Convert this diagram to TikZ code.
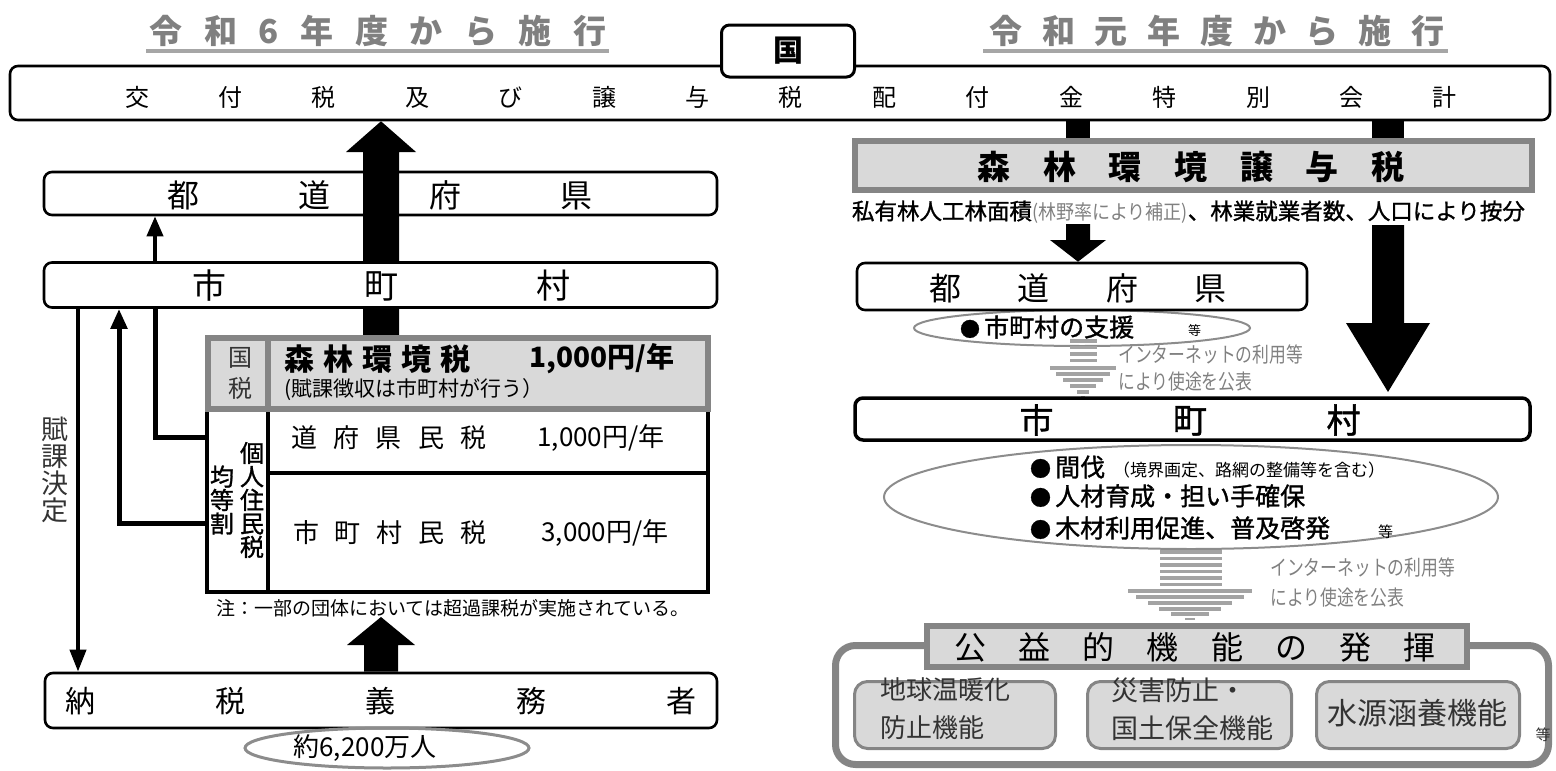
\documentclass[tikz,border=0pt]{standalone}
\usepackage{fontspec}
\setmainfont{Noto Sans CJK JP}
\newfontfamily\jpn[FakeStretch=0.8]{Noto Sans CJK JP}
\newfontfamily\jpsmall[FakeStretch=0.9]{Noto Sans CJK JP}
\newfontfamily\jpm[FakeBold=1.2]{Noto Sans CJK JP}
\usetikzlibrary{calc,arrows.meta,shapes.geometric}
\definecolor{titlegray}{HTML}{808080}
\definecolor{linegray}{HTML}{A6A6A6}
\definecolor{boxfill}{HTML}{D9D9D9}
\definecolor{boxline}{HTML}{858585}
\definecolor{stripe}{HTML}{A3A3A3}
\definecolor{ellgray}{HTML}{8C8C8C}
\definecolor{softtext}{HTML}{333333}
\newcommand\fs[2]{\fontsize{#1pt}{#2pt}\selectfont}
\begin{document}
\begin{tikzpicture}[x=1pt,y=-1pt,
  rbox/.style={draw=black,line width=2.6,rounded corners=8,fill=white,inner sep=0},
  lbl/.style={inner sep=0,outer sep=0,anchor=center},
  gbox/.style={draw=boxline,line width=6,fill=boxfill,inner sep=0},
  tcell/.style={draw=black,line width=4,inner sep=0},
  ell/.style={draw=ellgray,ellipse,line width=2,inner sep=0},
  ibox/.style={draw=boxline,line width=3,fill=boxfill,rounded corners=13,inner sep=0},
  strp/.style={draw=stripe,line width=3.5},
  note/.style={inner sep=0,text=titlegray,align=left,anchor=west},
  tri/.style={-{Triangle[width=16pt,length=20pt]}}
]
\useasboundingbox (0,0) rectangle (1556,771);

% titles
\node[lbl,text=titlegray] (titleL) at (378,31) {\fs{33}{36}\bfseries\makebox[457pt]{令\hfill 和\hfill 6\hfill 年\hfill 度\hfill か\hfill ら\hfill 施\hfill 行}};
\draw[linegray,line width=4] (146,51) -- (609,51);
\node[lbl,text=titlegray] (titleR) at (1217,31) {\fs{33}{36}\bfseries\makebox[455pt]{令\hfill 和\hfill 元\hfill 年\hfill 度\hfill か\hfill ら\hfill 施\hfill 行}};
\draw[linegray,line width=4] (983,51) -- (1448,51);

% national special account
\node[rbox,minimum width=1540,minimum height=54] (kofu) at (780,93) {};
\node[lbl] (kofuT) at (791,97) {\fs{24}{28}\makebox[1332pt]{交\hfill 付\hfill 税\hfill 及\hfill び\hfill 譲\hfill 与\hfill 税\hfill 配\hfill 付\hfill 金\hfill 特\hfill 別\hfill 会\hfill 計}};
\node[rbox,line width=3,minimum width=133,minimum height=52] (kuni) at (788,51) {\fs{30}{34}\bfseries 国};

% ---------- left side ----------
\node[rbox,minimum width=673,minimum height=43] (prefL) at (380.5,193.5) {};
\node[lbl] (prefLT) at (380,195) {\fs{32}{36}\makebox[425pt]{都\hfill 道\hfill 府\hfill 県}};
\fill (363,335) -- (363,152) -- (346,152) -- (381,0 |- kofu.south) -- (416,152) -- (399,152) -- (399,335) -- cycle;
\node[rbox,minimum width=673,minimum height=45] (munL) at (380.5,285) {};
\node[lbl] (munLT) at (381,286) {\fs{34}{38}\makebox[378pt]{市\hfill 町\hfill 村}};

\draw[line width=4,tri] (155,0 |- munL.north) -- (155,0 |- prefL.south);

% table
\node[tcell,minimum width=61,minimum height=183] (lcol) at (237.5,500.5) {};
\node[tcell,minimum width=440,minimum height=64] (row1) at (488,441) {};
\node[tcell,minimum width=440,minimum height=119] (row2) at (488,532.5) {};
\node[gbox,minimum width=500,minimum height=71] (gtax) at (458,373.5) {};
\draw[boxline,line width=6] (268,338) -- (268,409);
\node[lbl,align=center,font=\fs{24}{31},text=softtext] (kokuT) at (240,373) {国\\税};
\node[lbl] (shinT) at (377.5,359) {\fs{30}{34}\bfseries\makebox[187pt]{森\hfill 林\hfill 環\hfill 境\hfill 税}};
\node[lbl] (shinY) at (602,359) {\fs{28}{32}\bfseries 1,000円/年};
\node[lbl,anchor=west] (fuka) at (284,390) {\fs{21}{24}(賦課徴収は市町村が行う）};
\node[lbl] (kenT) at (389,438) {\fs{26}{30}\makebox[196pt]{道\hfill 府\hfill 県\hfill 民\hfill 税}};
\node[lbl] (kenY) at (601,438) {\fs{26}{30}1,000円/年};
\node[lbl] (shiT) at (390,533) {\fs{26}{30}\makebox[194pt]{市\hfill 町\hfill 村\hfill 民\hfill 税}};
\node[lbl] (shiY) at (605,533) {\fs{26}{30}3,000円/年};
\node[lbl,align=center,font=\jpm\fs{24}{23.5}] (kinT) at (222,500) {均\\等\\割};
\node[lbl,align=center,font=\jpm\fs{24}{23.5}] (kojT) at (252,500) {個\\人\\住\\民\\税};
\node[lbl] (chu) at (453,608) {\fs{19}{22}注：一部の団体においては超過課税が実施されている。};

% left connectors
\draw[line width=5] (155,0 |- munL.south) -- (155,437) -- (lcol.west |- 0,437);
\draw[line width=5,tri] (lcol.west |- 0,523) -- (119,523) -- (119,0 |- munL.south);
\node[rbox,minimum width=672,minimum height=55] (nozei) at (381,700.5) {};
\draw[line width=4,-{Triangle[width=16pt,length=22pt]}] (78,0 |- munL.south) -- (78,0 |- nozei.north);
\node[lbl,align=center,font=\fs{27}{27},text=softtext] (fukaK) at (55,470) {賦\\課\\決\\定};

\node[lbl] (nozeiT) at (381,701) {\fs{30}{34}\makebox[632pt]{納\hfill 税\hfill 義\hfill 務\hfill 者}};
\fill (364,0 |- nozei.north) -- (364,645) -- (347,645) -- (381,617) -- (415,645) -- (398,645) -- (398,0 |- nozei.north) -- cycle;
\node[ell,line width=3,minimum width=284,minimum height=40] (ninzu) at (387,748) {};
\node[lbl] (ninzuT) at (365,748) {\fs{26}{30}約6,200万人};

% ---------- right side ----------
\node[gbox,minimum width=677,minimum height=49] (jyoyo) at (1193.5,165.5) {};
\fill (1066,0 |- kofu.south) rectangle (1090,0 |- jyoyo.north);
\fill (1372,0 |- kofu.south) rectangle (1404,0 |- jyoyo.north);
\node[lbl] (jyoyoT) at (1191,167) {\fs{33}{36}\bfseries\makebox[427pt]{森\hfill 林\hfill 環\hfill 境\hfill 譲\hfill 与\hfill 税}};
\node[lbl,anchor=west] (anbun) at (852,212) {\jpm\fs{22.5}{26}私有林人工林面積{\jpsmall\fs{20}{22}\color{titlegray}(林野率により補正)}\jpm、林業就業者数、人口により按分};

\node[ell,minimum width=336,minimum height=36] (shien) at (1082,328) {};
\node[rbox,minimum width=450,minimum height=47] (prefR) at (1082,286.5) {};
\node[lbl] (prefRT) at (1078,288) {\fs{32}{36}\makebox[297pt]{都\hfill 道\hfill 府\hfill 県}};
\fill (1066,224) -- (1066,240) -- (1050,240) -- (1078,0 |- prefR.north) -- (1106,240) -- (1090,240) -- (1090,224) -- cycle;
\node[lbl,anchor=west] (shienT) at (960,327) {\jpm\fs{25}{28}{\fs{20}{28}●}\,市町村の支援};
\node[lbl,anchor=west] (shienE) at (1188,331) {\fs{13}{15}等};

% striped arrow 1
\foreach \yy in {341,347.5,354,360.5} \draw[strp] (1070,\yy) -- (1097,\yy);
\draw[strp] (1050,368) -- (1116,368);
\draw[strp] (1056,374) -- (1110,374);
\draw[strp] (1063,380) -- (1103,380);
\draw[strp] (1070,386) -- (1096,386);
\draw[strp] (1077,392) -- (1089,392);
\draw[strp,line width=2] (1081,397) -- (1085,397);
\node[note,font=\jpn\fs{21}{27}] (net1) at (1118,368) {インターネットの利用等\\により使途を公表};

\node[rbox,line width=3.5,minimum width=675,minimum height=42] (munR) at (1192.5,419) {};
\node[lbl] (munRT) at (1190,420) {\jpm\fs{34}{38}\makebox[341pt]{市\hfill 町\hfill 村}};
\fill (1372,225) -- (1372,323) -- (1346,323) -- (1388,392) -- (1430,323) -- (1404,323) -- (1404,225) -- cycle;

\node[ell,minimum width=614,minimum height=104] (katsu) at (1191,497) {};
\node[lbl,anchor=west] (b1) at (1030,467) {\jpm\fs{25}{28}{\fs{21}{28}●}\,間伐\hspace{8pt}{\fontspec{Noto Sans CJK JP}\fs{17}{20}（境界画定、路網の整備等を含む）}};
\node[lbl,anchor=west] (b2) at (1030,496) {\jpm\fs{25}{28}{\fs{21}{28}●}\,人材育成・担い手確保};
\node[lbl,anchor=west] (b3) at (1030,528) {\jpm\fs{25}{28}{\fs{21}{28}●}\,木材利用促進、普及啓発};
\node[lbl,anchor=west] (b3e) at (1378,532) {\fs{15}{18}等};

% striped arrow 2
\foreach \yy in {552,558.5,565,571.5,578,584.5} \draw[strp] (1160,\yy) -- (1222,\yy);
\draw[strp] (1128,591) -- (1252,591);
\draw[strp] (1136,597) -- (1244,597);
\draw[strp] (1148,603) -- (1232,603);
\draw[strp] (1159,609) -- (1221,609);
\draw[strp] (1171,614) -- (1209,614);
\draw[strp,line width=2.5] (1185,619) -- (1195,619);
\node[note,font=\jpn\fs{21}{30}] (net2) at (1270,583) {インターネットの利用等\\により使途を公表};

% public benefit group
\node[draw=boxline,line width=7,rounded corners=20,minimum width=713,minimum height=119,inner sep=0] (kouGrp) at (1192,705) {};
\node[gbox,minimum width=540,minimum height=41] (kouH) at (1197,646.5) {};
\node[lbl] (kouHT) at (1195,647) {\fs{32}{36}\makebox[481pt]{公\hfill 益\hfill 的\hfill 機\hfill 能\hfill の\hfill 発\hfill 揮}};
\node[ibox,minimum width=201,minimum height=67] (f1) at (955,715) {};
\node[lbl,anchor=west,align=left,font=\fs{26}{38},text=softtext] (f1T) at (880,709) {地球温暖化\\防止機能};
\node[ibox,minimum width=204,minimum height=67] (f2) at (1189.5,715) {};
\node[lbl,anchor=west,align=left,font=\fs{27}{38},text=softtext] (f2T) at (1111,709) {災害防止・\\国土保全機能};
\node[ibox,minimum width=203,minimum height=67] (f3) at (1418,715) {};
\node[lbl,font=\fs{30}{34},text=softtext] (f3T) at (1417,713) {水源涵養機能};
\node[lbl,font=\fs{15}{18},text=softtext] (f3E) at (1543,735) {等};
\end{tikzpicture}
\end{document}
